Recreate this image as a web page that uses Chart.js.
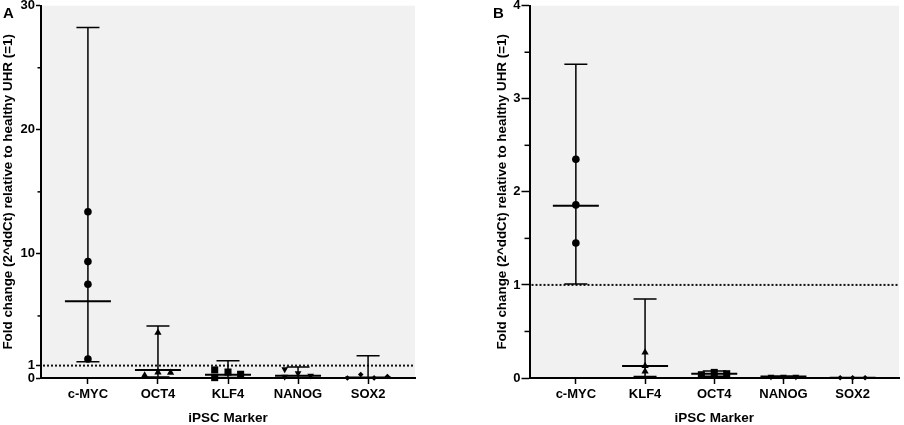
<!DOCTYPE html>
<html>
<head>
<meta charset="utf-8">
<script src="https://cdn.jsdelivr.net/npm/chart.js@4.4.1/dist/chart.umd.min.js"></script>
<style>
  html, body { margin: 0; padding: 0; background: #fff; }
  body { width: 904px; height: 425px; position: relative; overflow: hidden; }
  canvas { position: absolute; top: 0; }
  #cA { left: 0; }
  #cB { left: 452px; }
  .lbl { position: absolute; font: bold 15px/15px 'Liberation Sans', Arial, sans-serif; color: #000; }
</style>
</head>
<body>
<canvas id="cA" width="452" height="425"></canvas>
<canvas id="cB" width="452" height="425"></canvas>
<div class="lbl" style="left:3px; top:4.5px;">A</div>
<div class="lbl" style="left:493px; top:4.5px;">B</div>
<script>
// ---------- Panel A data ----------
const categoriesA = ['c-MYC', 'OCT4', 'KLF4', 'NANOG', 'SOX2'];
const valuesA = [
  [13.4, 9.38, 7.56, 1.53],
  [0.2, 3.65, 0.46, 0.43],
  [0.65, 0.03, 0.48, 0.3],
  [0.7, 0.1, 0.38, 0.19],
  [0.0, 0.28, 0.01, 0.12]
];
const meansA = [6.18, 0.65, 0.27, 0.19, 0.04];
const lowerA = [1.31, 0.08, 0.05, 0.04, 0.0];
const upperA = [28.25, 4.2, 1.4, 0.88, 1.8];
const yTicksA = [0, 1, 10, 20, 30];
const yMinorA = [5, 15, 25];
const yMaxA = 30;

// ---------- Panel B data ----------
const categoriesB = ['c-MYC', 'KLF4', 'OCT4', 'NANOG', 'SOX2'];
const valuesB = [
  [2.35, 1.86, 1.45],
  [0.275, 0.13, 0.07],
  [0.035, 0.06, 0.046],
  [0.015, 0.015, 0.015],
  [0.002, 0.002, 0.002]
];
const meansB = [1.85, 0.13, 0.046, 0.015, 0.002];
const lowerB = [1.01, 0.015, 0.02, 0.012, 0.001];
const upperB = [3.37, 0.85, 0.075, 0.018, 0.003];
const yTicksB = [0, 1, 2, 3, 4];
const yMinorB = [0.5, 1.5, 2.5, 3.5];
const yMaxB = 4;

const referenceLevel = 1;
const xTitle = 'iPSC Marker';
const yTitle = 'Fold change (2^ddCt) relative to healthy UHR (=1)';

// ---------- styling (not data) ----------
const jitterA = [[0,0,0,0],[-0.19,0,0,0.18],[-0.19,-0.19,0,0.18],[-0.19,-0.19,0,0.18],[-0.295,-0.105,0.086,0.276]];
const jitterB = [[0,0,0],[0,0,0],[-0.186,0,0.18],[-0.18,0,0.18],[-0.18,0,0.18]];
const markerStyles = [
  { pointStyle: 'circle', radius: 3.8, rotation: 0 },
  { pointStyle: 'triangle', radius: 4.2, rotation: 0 },
  { pointStyle: 'rect', radius: 5, rotation: 0 },
  { pointStyle: 'triangle', radius: 3.9, rotation: 180 },
  { pointStyle: 'rectRot', radius: 2.8, rotation: 0 }
];
const FONT = "'Liberation Sans', Arial, sans-serif";

const errPlugin = {
  id: 'errbars',
  beforeDraw(chart, args, o) {
    const { ctx, chartArea: a } = chart;
    ctx.save();
    ctx.fillStyle = '#f1f1f1';
    ctx.fillRect(a.left, a.top, a.right - a.left, a.bottom - a.top);
    ctx.restore();
  },
  beforeDatasetsDraw(chart, args, o) {
    const { ctx, chartArea: a } = chart;
    const x = chart.scales.x, y = chart.scales.y;
    ctx.save();
    // dotted reference line
    const yr = y.getPixelForValue(o.ref);
    ctx.strokeStyle = '#111';
    ctx.lineWidth = 2;
    ctx.setLineDash([2, 2]);
    ctx.beginPath();
    ctx.moveTo(a.left + 2, yr);
    ctx.lineTo(a.right, yr);
    ctx.stroke();
    ctx.setLineDash([]);
    ctx.strokeStyle = '#000';
    o.means.forEach((m, i) => {
      const xc = x.getPixelForValue(i + 1);
      const yl = y.getPixelForValue(o.lo[i]);
      const yh = y.getPixelForValue(o.hi[i]);
      const ym = y.getPixelForValue(m);
      ctx.lineWidth = 1.5;
      ctx.beginPath();
      ctx.moveTo(xc, yl); ctx.lineTo(xc, yh);
      ctx.moveTo(xc - 11.5, yh); ctx.lineTo(xc + 11.5, yh);
      ctx.moveTo(xc - 11.5, yl); ctx.lineTo(xc + 11.5, yl);
      ctx.stroke();
      ctx.lineWidth = 2;
      ctx.beginPath();
      ctx.moveTo(xc - 23, ym); ctx.lineTo(xc + 23, ym);
      ctx.stroke();
    });
    ctx.restore();
  },
  afterDraw(chart, args, o) {
    const { ctx, chartArea: a } = chart;
    const y = chart.scales.y;
    ctx.save();
    ctx.strokeStyle = '#000';
    ctx.lineWidth = 1.5;
    o.minor.forEach(v => {
      const py = y.getPixelForValue(v);
      ctx.beginPath();
      ctx.moveTo(a.left - o.minorLen, py);
      ctx.lineTo(a.left, py);
      ctx.stroke();
    });
    ctx.restore();
  }
};

function makeChart(id, cats, vals, means, lo, hi, yTicks, yMinor, yMax, jitter, cfg) {
  const datasets = vals.map((arr, i) => ({
    data: arr.map((v, j) => ({ x: i + 1 + jitter[i][j], y: v })),
    pointStyle: markerStyles[i].pointStyle,
    pointRadius: markerStyles[i].radius,
    pointRotation: markerStyles[i].rotation,
    backgroundColor: '#000',
    borderColor: '#000',
    borderWidth: 0,
    showLine: false,
    clip: false
  }));
  return new Chart(document.getElementById(id), {
    type: 'scatter',
    data: { datasets },
    plugins: [errPlugin],
    options: {
      responsive: false,
      animation: false,
      devicePixelRatio: 1,
      layout: { padding: { top: 5.7, right: cfg.rightPad, left: 0, bottom: 0 } },
      plugins: {
        legend: { display: false },
        tooltip: { enabled: false },
        errbars: { ref: referenceLevel, means, lo, hi, minor: yMinor, minorLen: cfg.minorLen }
      },
      scales: {
        x: {
          type: 'linear',
          min: 0.33, max: 5.67,
          afterBuildTicks: s => { s.ticks = cats.map((c, i) => ({ value: i + 1 })); },
          afterFit: s => { s.height = 47; s.paddingLeft = 0; s.paddingRight = 0; },
          ticks: {
            autoSkip: false, maxRotation: 0, padding: 3,
            color: '#000',
            font: { family: FONT, size: 13, weight: 'bold' },
            callback: v => cats[Math.round(v) - 1]
          },
          grid: { display: true, drawOnChartArea: false, tickLength: 6, tickColor: '#000', tickWidth: 1.5 },
          border: { display: true, color: '#000', width: 2 },
          title: {
            display: true, text: xTitle, color: '#000',
            font: { family: FONT, size: 13.5, weight: 'bold', lineHeight: 1 },
            padding: { top: 0, bottom: 0 }
          }
        },
        y: {
          type: 'linear',
          min: 0, max: yMax,
          afterBuildTicks: s => { s.ticks = yTicks.map(v => ({ value: v })); },
          afterFit: s => { s.width = cfg.yWidth; s.paddingTop = 0; s.paddingBottom = 0; },
          ticks: {
            autoSkip: false, padding: 1,
            color: '#000',
            font: { family: FONT, size: 13, weight: 'bold' }
          },
          grid: { display: true, drawOnChartArea: false, tickLength: cfg.tickLen, tickColor: '#000', tickWidth: 1.5 },
          border: { display: true, color: '#000', width: 2 },
          title: {
            display: true, text: yTitle, color: '#000', align: 'center',
            font: { family: FONT, size: 13.4, weight: 'bold' },
            padding: { top: cfg.titlePad, bottom: 0 }
          }
        }
      }
    }
  });
}

makeChart('cA', categoriesA, valuesA, meansA, lowerA, upperA, yTicksA, yMinorA, yMaxA, jitterA,
  { rightPad: 37, yWidth: 41, tickLen: 5, minorLen: 3.5, titlePad: 0.3 });
makeChart('cB', categoriesB, valuesB, meansB, lowerB, upperB, yTicksB, yMinorB, yMaxB, jitterB,
  { rightPad: 1, yWidth: 77.5, tickLen: 8, minorLen: 5, titlePad: 42 });
</script>
</body>
</html>
